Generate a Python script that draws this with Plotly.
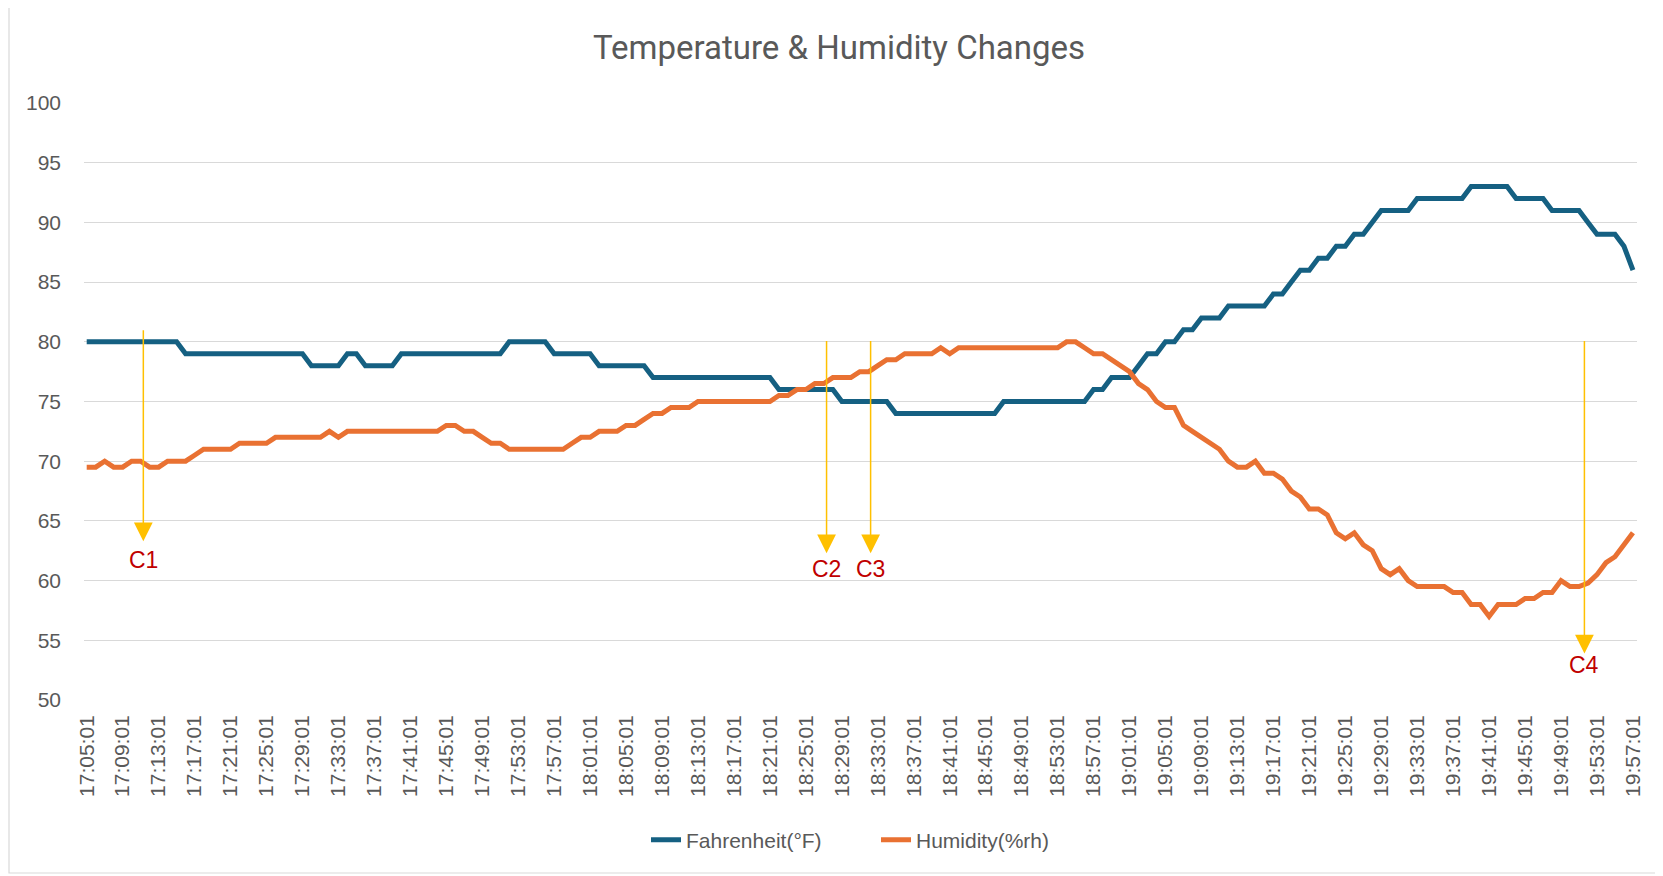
import plotly.graph_objects as go
from datetime import datetime, timedelta

# ---------------- data ----------------
start_time = datetime(2024, 1, 1, 17, 5, 1)
times = [(start_time + timedelta(minutes=i)).strftime("%H:%M:%S") for i in range(173)]
tick_labels = times[::4]

fahrenheit = (
    [80] * 11 + [79] * 14 + [78] * 4 + [79] * 2 + [78] * 4 + [79] * 12 + [80] * 5 +
    [79] * 5 + [78] * 6 + [77] * 14 + [76] * 7 + [75] * 6 + [74] * 12 + [75] * 10 +
    [76] * 2 + [77] * 3 + [78] * 1 + [79] * 2 + [80] * 2 + [81] * 2 + [82] * 3 +
    [83] * 5 + [84] * 2 + [85] * 1 + [86] * 2 + [87] * 2 + [88] * 2 + [89] * 2 +
    [90] * 1 + [91] * 4 + [92] * 6 + [93] * 5 + [92] * 4 + [91] * 4 + [90] * 1 +
    [89] * 3 + [88] * 1 + [86] * 1
)

humidity = [
    69.5, 69.5, 70, 69.5, 69.5, 70, 70, 69.5, 69.5, 70,
    70, 70, 70.5, 71, 71, 71, 71, 71.5, 71.5, 71.5,
    71.5, 72, 72, 72, 72, 72, 72, 72.5, 72, 72.5,
    72.5, 72.5, 72.5, 72.5, 72.5, 72.5, 72.5, 72.5, 72.5, 72.5,
    73, 73, 72.5, 72.5, 72, 71.5, 71.5, 71, 71, 71,
    71, 71, 71, 71, 71.5, 72, 72, 72.5, 72.5, 72.5,
    73, 73, 73.5, 74, 74, 74.5, 74.5, 74.5, 75, 75,
    75, 75, 75, 75, 75, 75, 75, 75.5, 75.5, 76,
    76, 76.5, 76.5, 77, 77, 77, 77.5, 77.5, 78, 78.5,
    78.5, 79, 79, 79, 79, 79.5, 79, 79.5, 79.5, 79.5,
    79.5, 79.5, 79.5, 79.5, 79.5, 79.5, 79.5, 79.5, 79.5, 80,
    80, 79.5, 79, 79, 78.5, 78, 77.5, 76.5, 76, 75,
    74.5, 74.5, 73, 72.5, 72, 71.5, 71, 70, 69.5, 69.5,
    70, 69, 69, 68.5, 67.5, 67, 66, 66, 65.5, 64,
    63.5, 64, 63, 62.5, 61, 60.5, 61, 60, 59.5, 59.5,
    59.5, 59.5, 59, 59, 58, 58, 57, 58, 58, 58,
    58.5, 58.5, 59, 59, 60, 59.5, 59.5, 59.8, 60.5, 61.5,
    62, 63, 64,
]

# callouts: label, x position (category index), arrow top, arrow tip, label y
callout_labels = ["C1", "C2", "C3", "C4"]
callout_x = [6.3, 82.3, 87.2, 166.6]
callout_top = [81.1, 80.2, 80.2, 80.2]
callout_tip = [63.3, 62.3, 62.3, 53.9]
callout_text_y = [61.7, 61.0, 61.0, 52.9]

# ---------------- styles ----------------
TEXT_GRAY = "#595959"
BLUE = "#156082"
ORANGE = "#E97132"
GOLD = "#FFC000"
RED = "#C00000"
FONT = "Liberation Sans, Arial, sans-serif"

OFF = 8  # page body margin of the html page
W, H = 1663 - OFF, 876 - OFF
L, R, T, B = 84 - OFF, 26, 103 - OFF, 176
plot_w = W - L - R
plot_h = H - T - B


def px_x(page_x):
    return (page_x - OFF - L) / plot_w


def px_y(page_y):
    return (T + plot_h - (page_y - OFF)) / plot_h


fig = go.Figure()
fig.add_trace(go.Scatter(x=times, y=fahrenheit, mode="lines", name="Fahrenheit(°F)",
                         line=dict(color=BLUE, width=5)))
fig.add_trace(go.Scatter(x=times, y=humidity, mode="lines", name="Humidity(%rh)",
                         line=dict(color=ORANGE, width=5)))

annotations = []
for lab, cx, top, tip, ty in zip(callout_labels, callout_x, callout_top, callout_tip, callout_text_y):
    annotations.append(dict(
        x=cx, y=tip, xref="x", yref="y",
        ax=cx, ay=top, axref="x", ayref="y",
        text="", showarrow=True, arrowhead=2, arrowsize=2.5, arrowwidth=1.5,
        arrowcolor=GOLD, standoff=0, startstandoff=0,
    ))
    annotations.append(dict(
        x=cx, y=ty, xref="x", yref="y", text=lab, showarrow=False,
        font=dict(family=FONT, size=23, color=RED),
        xanchor="center", yanchor="middle",
    ))

fig.update_layout(
    width=W, height=H,
    margin=dict(l=L, r=R, t=T, b=B, pad=0),
    paper_bgcolor="white", plot_bgcolor="white",
    title=dict(text="Temperature & Humidity Changes", x=(839 - OFF) / W, y=1 - (47.7 - OFF) / H,
               xref="container", yref="container", xanchor="center", yanchor="middle",
               font=dict(family="Roboto, " + FONT, size=33, color=TEXT_GRAY)),
    xaxis=dict(type="category", range=[-0.3, 172.45], tickmode="array",
               tickvals=tick_labels, ticktext=tick_labels, tickangle=-90,
               tickfont=dict(family=FONT, size=21, color=TEXT_GRAY),
               showgrid=False, showline=False, zeroline=False, ticks="",
               ticklabelstandoff=10),
    yaxis=dict(range=[50, 100], dtick=5, tick0=50, showgrid=True, gridcolor="#D9D9D9",
               gridwidth=1.3, zeroline=False, showline=False, ticks="",
               tickfont=dict(family=FONT, size=21, color=TEXT_GRAY),
               ticklabelstandoff=22),
    legend=dict(orientation="h", x=px_x(646), xanchor="left",
                y=px_y(840), yanchor="middle",
                font=dict(family=FONT, size=21, color=TEXT_GRAY),
                entrywidth=185, entrywidthmode="pixels", traceorder="normal"),
    annotations=annotations,
    shapes=[dict(type="rect", xref="paper", yref="paper",
                 x0=px_x(9), x1=px_x(1661),
                 y0=px_y(873), y1=px_y(4),
                 line=dict(color="#D9D9D9", width=1.2), fillcolor="rgba(0,0,0,0)",
                 layer="below")],
    showlegend=True,
)

fig.write_html("out.html")
